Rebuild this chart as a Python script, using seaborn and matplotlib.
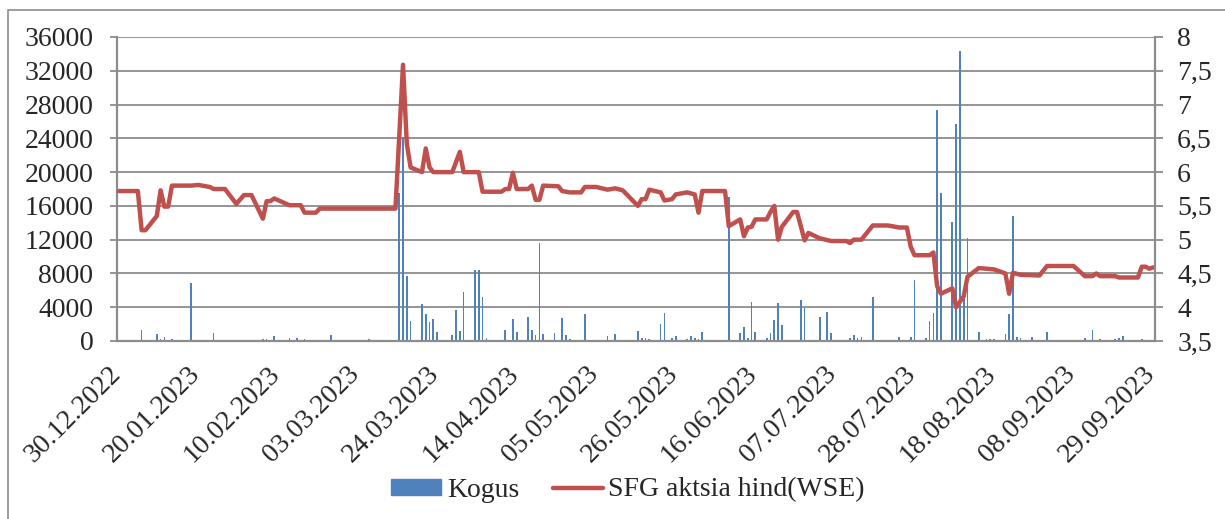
import pandas as pd
import seaborn as sns
import matplotlib.pyplot as plt
import matplotlib.dates as mdates
from matplotlib.patches import Rectangle
from matplotlib.lines import Line2D
from matplotlib.ticker import FuncFormatter, MultipleLocator

# Kogus - traded volume per session
volume_dates = [
    "2023-01-05", "2023-01-09", "2023-01-10", "2023-01-11", "2023-01-13", "2023-01-18", "2023-01-24",
    "2023-02-06", "2023-02-07", "2023-02-09", "2023-02-13", "2023-02-15", "2023-02-17", "2023-02-24",
    "2023-03-06", "2023-03-14", "2023-03-15", "2023-03-16", "2023-03-17", "2023-03-20", "2023-03-21",
    "2023-03-22", "2023-03-23", "2023-03-24", "2023-03-28", "2023-03-29", "2023-03-30", "2023-03-31",
    "2023-04-03", "2023-04-04", "2023-04-05", "2023-04-06", "2023-04-11", "2023-04-13", "2023-04-14",
    "2023-04-17", "2023-04-18", "2023-04-19", "2023-04-20", "2023-04-21", "2023-04-24", "2023-04-26",
    "2023-04-27", "2023-04-28",
    "2023-05-02", "2023-05-08", "2023-05-10", "2023-05-16", "2023-05-17", "2023-05-18", "2023-05-19",
    "2023-05-22", "2023-05-23", "2023-05-25", "2023-05-26", "2023-05-29", "2023-05-30", "2023-05-31",
    "2023-06-01", "2023-06-02", "2023-06-09", "2023-06-12", "2023-06-13", "2023-06-14", "2023-06-15",
    "2023-06-16", "2023-06-19", "2023-06-20", "2023-06-21", "2023-06-22", "2023-06-23", "2023-06-28",
    "2023-06-29",
    "2023-07-03", "2023-07-05", "2023-07-06", "2023-07-11", "2023-07-12", "2023-07-13", "2023-07-14",
    "2023-07-17", "2023-07-24", "2023-07-27", "2023-07-28", "2023-07-31",
    "2023-08-01", "2023-08-02", "2023-08-03", "2023-08-04", "2023-08-07", "2023-08-08", "2023-08-09",
    "2023-08-10", "2023-08-11", "2023-08-14", "2023-08-16", "2023-08-17", "2023-08-18", "2023-08-21",
    "2023-08-22", "2023-08-23", "2023-08-24", "2023-08-25", "2023-08-28",
    "2023-09-01", "2023-09-11", "2023-09-13", "2023-09-15", "2023-09-19", "2023-09-20", "2023-09-21",
    "2023-09-26",
]
volume = [
    1280, 790, 290, 430, 200, 6850, 910,
    290, 200, 560, 410, 410, 290, 680,
    200, 17500, 24200, 7700, 2370, 4380, 3200,
    2210, 2570, 1030, 710, 3670, 1220, 5840,
    8400, 8400, 5250, 320, 1300, 2600, 1030,
    2800, 1300, 710, 11560, 830, 910, 2760,
    710, 240,
    3200, 590, 870, 1180, 320, 320, 240,
    2000, 3280, 320, 590, 240, 590, 320,
    240, 1030, 17100, 990, 1620, 320, 4660,
    1030, 320, 910, 2490, 4540, 1860, 4850,
    3950,
    2800, 3430, 990, 320, 710, 320, 470,
    5170, 430, 510, 7220, 320,
    2370, 3370, 27350, 17560, 14050, 25650, 34380,
    5000, 12160, 1060, 220, 240, 240, 830,
    3200, 14800, 430, 320, 430,
    1100, 320, 1300, 240, 240, 320, 630,
    200,
]

# SFG aktsia hind (WSE) - closing price
price_dates = [
    "2022-12-30", "2023-01-04", "2023-01-05", "2023-01-06", "2023-01-09", "2023-01-10", "2023-01-11",
    "2023-01-12", "2023-01-13", "2023-01-18", "2023-01-20", "2023-01-23", "2023-01-24", "2023-01-27",
    "2023-01-30", "2023-02-01", "2023-02-03", "2023-02-06", "2023-02-07", "2023-02-08", "2023-02-09",
    "2023-02-13", "2023-02-16", "2023-02-17", "2023-02-20", "2023-02-21", "2023-03-13", "2023-03-14",
    "2023-03-15", "2023-03-16", "2023-03-17", "2023-03-20", "2023-03-21", "2023-03-22", "2023-03-23",
    "2023-03-28", "2023-03-30", "2023-03-31", "2023-04-04", "2023-04-05", "2023-04-10", "2023-04-11",
    "2023-04-12", "2023-04-13", "2023-04-14", "2023-04-17", "2023-04-18", "2023-04-19", "2023-04-20",
    "2023-04-21", "2023-04-25", "2023-04-26", "2023-04-28", "2023-05-01", "2023-05-02", "2023-05-05",
    "2023-05-08", "2023-05-10", "2023-05-12", "2023-05-16", "2023-05-17", "2023-05-18", "2023-05-19",
    "2023-05-22", "2023-05-23", "2023-05-25", "2023-05-26", "2023-05-29", "2023-05-31", "2023-06-01",
    "2023-06-02", "2023-06-08", "2023-06-09", "2023-06-12", "2023-06-13", "2023-06-14", "2023-06-15",
    "2023-06-16", "2023-06-19", "2023-06-20", "2023-06-21", "2023-06-22", "2023-06-23", "2023-06-26",
    "2023-06-27", "2023-06-29", "2023-06-30", "2023-07-03", "2023-07-06", "2023-07-10", "2023-07-11",
    "2023-07-12", "2023-07-14", "2023-07-17", "2023-07-21", "2023-07-24", "2023-07-26", "2023-07-27",
    "2023-07-28", "2023-08-01", "2023-08-02", "2023-08-03", "2023-08-04", "2023-08-07", "2023-08-08",
    "2023-08-10", "2023-08-11", "2023-08-14", "2023-08-18", "2023-08-21", "2023-08-22", "2023-08-23",
    "2023-08-25", "2023-08-30", "2023-09-01", "2023-09-08", "2023-09-11", "2023-09-13", "2023-09-14",
    "2023-09-15", "2023-09-19", "2023-09-20", "2023-09-25", "2023-09-26", "2023-09-27", "2023-09-28",
    "2023-09-29",
]
price = [
    5.72, 5.72, 5.14, 5.14, 5.35, 5.73, 5.49,
    5.49, 5.80, 5.80, 5.81, 5.78, 5.75, 5.75,
    5.53, 5.66, 5.66, 5.31, 5.57, 5.57, 5.61,
    5.51, 5.51, 5.40, 5.40, 5.46, 5.46, 6.52,
    7.59, 6.42, 6.07, 6.00, 6.35, 6.07, 6.00,
    6.00, 6.30, 6.00, 6.00, 5.71, 5.71, 5.75,
    5.75, 5.99, 5.75, 5.75, 5.80, 5.59, 5.59,
    5.80, 5.79, 5.72, 5.70, 5.70, 5.78, 5.78,
    5.74, 5.76, 5.73, 5.50, 5.60, 5.60, 5.74,
    5.70, 5.58, 5.60, 5.67, 5.70, 5.67, 5.40,
    5.72, 5.72, 5.20, 5.30, 5.05, 5.18, 5.19,
    5.30, 5.30, 5.41, 5.50, 5.00, 5.19, 5.41,
    5.41, 4.99, 5.10, 5.02, 4.98, 4.98, 4.95,
    5.00, 5.00, 5.21, 5.21, 5.18, 5.18, 4.90,
    4.77, 4.77, 4.81, 4.31, 4.20, 4.28, 4.00,
    4.16, 4.45, 4.58, 4.56, 4.50, 4.20, 4.51,
    4.48, 4.47, 4.61, 4.61, 4.46, 4.46, 4.50,
    4.46, 4.46, 4.44, 4.44, 4.60, 4.60, 4.57,
    4.59,
]

tick_dates = pd.date_range("2022-12-30", "2023-09-29", freq="21D")

blue = "#4F81BD"
red = "#C0504D"
grey = "#8C8C8C"

sns.set_style("white")
plt.rcParams["font.family"] = ["Liberation Serif", "DejaVu Serif"]

# Excel draws each session in the middle of its day slot
half_day = pd.Timedelta(hours=12)
vol_df = pd.DataFrame({"date": pd.to_datetime(volume_dates) + half_day, "volume": volume})
price_df = pd.DataFrame({"date": pd.to_datetime(price_dates) + half_day, "price": price})

fig = plt.figure(figsize=(12.25, 5.19), dpi=100)
ax = fig.add_axes([117 / 1225, 1 - 341 / 519, (1155 - 117) / 1225, (341 - 37) / 519])
ax2 = ax.twinx()

ax.bar(vol_df["date"], vol_df["volume"], width=0.45, color=blue, linewidth=0)
sns.lineplot(data=price_df, x="date", y="price", ax=ax2, color=red, linewidth=3.2, estimator=None)

ax.set_xlim(pd.Timestamp("2022-12-30"), pd.Timestamp("2023-09-30"))
ax.set_ylim(0, 36000)
ax.yaxis.set_major_locator(MultipleLocator(4000))
ax2.set_ylim(3.5, 8)
ax2.yaxis.set_major_locator(MultipleLocator(0.5))
ax2.yaxis.set_major_formatter(FuncFormatter(lambda v, p: f"{v:g}".replace(".", ",")))

ax.set_xticks(tick_dates)
ax.xaxis.set_major_formatter(mdates.DateFormatter("%d.%m.%Y"))
for lab in ax.get_xticklabels():
    lab.set_rotation(45)
    lab.set_ha("right")
    lab.set_va("center")
    lab.set_rotation_mode("anchor")

ax.set_axisbelow(True)
ax.yaxis.grid(True, color=grey, linewidth=1.3)
ax.xaxis.grid(False)
ax.set_xlabel("")
ax.set_ylabel("")
ax2.set_xlabel("")
ax2.set_ylabel("")

for s in ["top", "right"]:
    ax.spines[s].set_visible(False)
for s in ["left", "bottom"]:
    ax.spines[s].set_color(grey)
    ax.spines[s].set_linewidth(1.6)
for s in ["top", "left", "bottom"]:
    ax2.spines[s].set_visible(False)
ax2.spines["right"].set_color(grey)
ax2.spines["right"].set_linewidth(1.6)

ax.tick_params(axis="y", direction="out", length=5, width=1.3, color=grey, pad=12, labelsize=20)
ax.tick_params(axis="x", direction="out", length=5, width=1.3, color=grey, pad=16, labelsize=20)
ax2.tick_params(axis="y", direction="out", length=6, width=1.3, color=grey, pad=10, labelsize=20)

# chart area border
fig.add_artist(Rectangle((8 / 1225, -0.1), 1.2, (519 - 10) / 519 + 0.1, transform=fig.transFigure,
                         fill=False, edgecolor=grey, linewidth=1.2))

handles = [Rectangle((0, 0), 1, 1, color=blue), Line2D([], [], color=red, linewidth=3.2)]
fig.legend(handles, ["Kogus", "SFG aktsia hind(WSE)"], loc="center",
           bbox_to_anchor=(628 / 1225, 1 - 490 / 519), ncol=2, frameon=False, fontsize=20,
           handlelength=1.8, handleheight=0.5, handletextpad=0.2, columnspacing=1.2)

fig.savefig("out.png", dpi=100)
